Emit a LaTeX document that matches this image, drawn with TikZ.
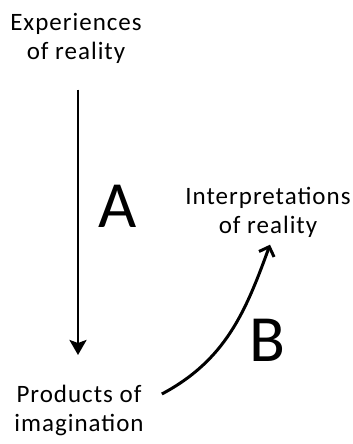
\documentclass[tikz,border=0pt]{standalone}
\usepackage{fontspec}
\setmainfont{Carlito}
\newfontfamily\lblfont{Carlito}[LetterSpace=4]
\usetikzlibrary{arrows.meta,positioning,calc}

\begin{document}
\begin{tikzpicture}[x=1pt,y=1pt,
  lbl/.style={align=center, inner sep=0pt, font=\lblfont\fontsize{25}{29}\selectfont},
  big/.style={inner sep=0pt, font=\fontsize{66}{66}\selectfont},
  lnk/.style={-{Stealth[length=15pt, width=17pt, inset=3pt]}, line width=2.7pt},
  crv/.style={-{Straight Barb[length=8pt, width=16pt]}, line width=3pt},
]
\useasboundingbox (0,0) rectangle (353,444);
\node[lbl, anchor=north] (exp) at (76,431) {Experiences\\of reality};
\node[lbl, anchor=north] (interp) at (268,257) {Interpretations\\of reality};
\node[lbl, anchor=north] (prod) at (79,59) {Products of\\imagination};
\node[big] (a) at (118,238) {A};
\node[big] (b) at (267,104) {B};
\draw[lnk] ($(exp.south)+(2,-26)$) -- ($(prod.north)+(-1,30)$);
\draw[crv] ($(prod.north east)+(18,-9)$) to[out=28, in=-110] ($(interp.south)+(2,-7)$);
\end{tikzpicture}
\end{document}
